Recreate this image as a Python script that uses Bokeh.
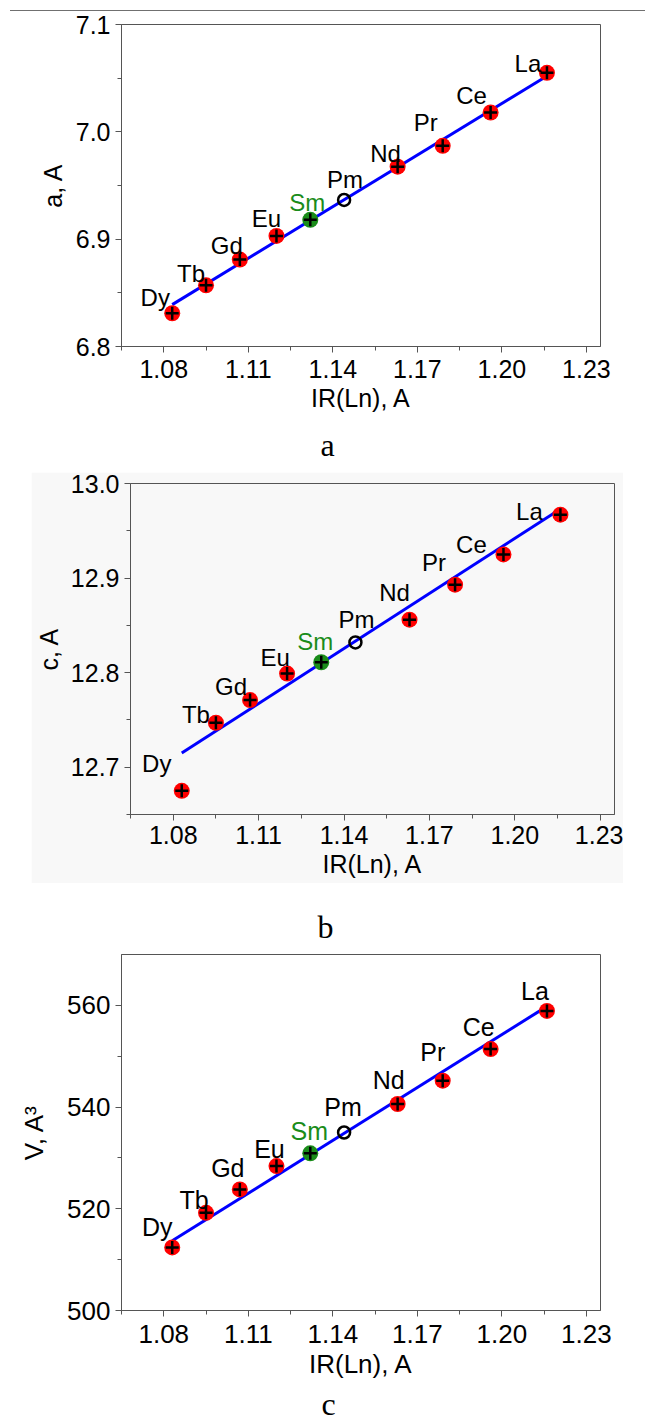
from bokeh.plotting import figure
from bokeh.layouts import column, row
from bokeh.models import Range1d, FixedTicker, PrintfTickFormatter, ColumnDataSource, Spacer, Title
from bokeh.core.properties import value
from bokeh.embed import file_html
from bokeh.resources import INLINE

# ---------------- data ----------------
elements = ["La", "Ce", "Pr", "Nd", "Pm", "Sm", "Eu", "Gd", "Tb", "Dy"]
ionic_radius = [1.216, 1.196, 1.179, 1.163, 1.144, 1.132, 1.120, 1.107, 1.095, 1.083]
a_param = [7.055, 7.018, 6.987, 6.9675, 6.9365, 6.918, 6.903, 6.881, 6.857, 6.831]
c_param = [12.967, 12.925, 12.893, 12.856, 12.832, 12.811, 12.799, 12.771, 12.747, 12.675]
volume = [558.9, 551.4, 545.2, 540.6, 535.0, 530.9, 528.4, 523.8, 519.2, 512.4]

fit_x = [1.083, 1.216]
fit_a = [6.839, 7.052]
fit_c = [12.715, 12.973]
fit_v = [513.7, 559.8]

x_ticks = [1.08, 1.11, 1.14, 1.17, 1.20, 1.23]
x_minor = [1.065, 1.095, 1.125, 1.155, 1.185, 1.215]
a_ticks = [6.8, 6.9, 7.0, 7.1]
a_minor = [6.85, 6.95, 7.05]
c_ticks = [12.7, 12.8, 12.9, 13.0]
c_minor = [12.65, 12.75, 12.85, 12.95]
v_ticks = [500, 520, 540, 560]
v_minor = [510, 530, 550]

captions = ["a", "b", "c"]
x_title = "IR(Ln), A"
y_titles = ["a, A", "c, A", "V, A\u00b3"]

# label offsets (pixels) per panel: (dx, dy)
off_a = [(-19, -9), (-19, -17), (-17, -23), (-12, -13), (1, -20), (-3, -17), (-10, -17), (-13, -14), (-15, -12), (-17, -16)]
off_b = [(-31, -3), (-32, -10), (-21, -22), (-15, -27), (1, -23), (-6, -21), (-12, -16), (-19, -14), (-20, -8), (-25, -27)]
off_c = [(-12, -20), (-12, -22), (-10, -29), (-9, -24), (-1, -26), (-1, -22), (-7, -17), (-12, -21), (-12, -13), (-15, -20)]

FONT = "Liberation Sans"
RED = "#ff0000"
GREEN = "#1a8c1a"
AXC = "#555555"
W = 645
XR = (1.065, 1.235)


def panel(yvals, fit_y, yt, ym, yfmt, yr, ytitle, offs, w, h, bl, br, bt, bb,
          fs, lab_fs, s1x, s2x, s1y, s2y, bg="white"):
    p = figure(width=w, height=h, output_backend="svg", toolbar_location=None,
               x_range=Range1d(*XR), y_range=Range1d(*yr),
               min_border_left=bl, min_border_right=br, min_border_top=bt, min_border_bottom=bb,
               background_fill_color=bg, border_fill_color=bg)
    p.xgrid.visible = False
    p.ygrid.visible = False
    p.outline_line_color = AXC
    p.outline_line_width = 1

    p.xaxis.ticker = FixedTicker(ticks=x_ticks, minor_ticks=x_minor)
    p.xaxis.formatter = PrintfTickFormatter(format="%.2f")
    p.yaxis.ticker = FixedTicker(ticks=yt, minor_ticks=ym)
    p.yaxis.formatter = PrintfTickFormatter(format=yfmt)
    p.xaxis.axis_label = x_title
    p.yaxis.axis_label = ytitle
    for ax, s1, s2 in ((p.xaxis, s1x, s2x), (p.yaxis, s1y, s2y)):
        ax.axis_line_color = AXC
        ax.major_tick_line_color = AXC
        ax.minor_tick_line_color = AXC
        ax.major_tick_out = 6
        ax.major_tick_in = 0
        ax.minor_tick_out = 4
        ax.minor_tick_in = 0
        ax.major_label_text_font = FONT
        ax.major_label_text_font_size = f"{fs}px"
        ax.major_label_text_color = "black"
        ax.axis_label_text_font = FONT
        ax.axis_label_text_font_size = f"{fs}px"
        ax.axis_label_text_font_style = "normal"
        ax.axis_label_text_color = "black"
        ax.major_label_standoff = s1
        ax.axis_label_standoff = s2

    p.line(fit_x, fit_y, line_color="#0000ff", line_width=3)

    fill = [GREEN if e == "Sm" else RED for e in elements]
    src = ColumnDataSource(dict(
        x=ionic_radius, y=yvals, el=elements,
        dx=[o[0] for o in offs], dy=[o[1] for o in offs],
        tc=[GREEN if e == "Sm" else "black" for e in elements],
    ))
    solid = [i for i, e in enumerate(elements) if e != "Pm"]
    open_ = [i for i, e in enumerate(elements) if e == "Pm"]
    ssrc = ColumnDataSource(dict(x=[ionic_radius[i] for i in solid], y=[yvals[i] for i in solid],
                                 fill=[fill[i] for i in solid]))
    osrc = ColumnDataSource(dict(x=[ionic_radius[i] for i in open_], y=[yvals[i] for i in open_]))
    p.scatter("x", "y", source=ssrc, marker="circle", size=16, fill_color="fill", line_color=None)
    p.scatter("x", "y", source=ssrc, marker="cross", size=13, line_color="black", line_width=2.5)
    p.scatter("x", "y", source=osrc, marker="circle", size=12, fill_color=None,
              line_color="black", line_width=2.5)
    p.text("x", "y", text="el", source=src, x_offset="dx", y_offset="dy",
           text_color="tc", text_font=value(FONT), text_font_size=f"{lab_fs}px",
           text_align="center", text_baseline="alphabetic")
    return p


def add_caption(p, txt, side, offset, standoff):
    p.add_layout(Title(text=txt, align="left", offset=offset, standoff=standoff,
                       text_font="Liberation Serif", text_font_size="32px",
                       text_font_style="normal", text_color="black"), side)


sep = Spacer(width=635, height=11, styles={"border-bottom": "1px solid #707070",
                                           "box-sizing": "border-box"})

yr_a = (6.8, 7.1)
yr_b = (12.65, 13.0)
yr_v = (500.0, 570.0)

# panel a: page y 11..472, frame 119..600 x 24..347
pa = panel(a_param, fit_a, a_ticks, a_minor, "%.1f", yr_a, y_titles[0], off_a,
           W, 461, 119, 45, 13, 125, 25, 24, 7, 3, 5, 6)
add_caption(pa, captions[0], "below", 199, 20)

# panel b: page x 31..623, y 472..883
pb = panel(c_param, fit_c, c_ticks, c_minor, "%.1f", yr_b, y_titles[1], off_b,
           592, 411, 94, 9, 11, 69, 25, 24, 5, 3, 5, 5, bg="#f8f8f8")

# panel c: page y 883..1423, frame 121..630 x 954..1312
pc = panel(volume, fit_v, v_ticks, v_minor, "%d", yr_v, y_titles[2], off_c,
           W, 540, 121, 15, 71, 111, 26, 25, 8, 3, 5, 15)
add_caption(pc, captions[1], "above", 196, 20)
add_caption(pc, captions[2], "below", 200, 4)

layout = column(row(Spacer(width=10, height=11), sep), pa,
                row(Spacer(width=31, height=411), pb), pc, spacing=0)

open("out.html", "w").write(file_html(layout, INLINE))
